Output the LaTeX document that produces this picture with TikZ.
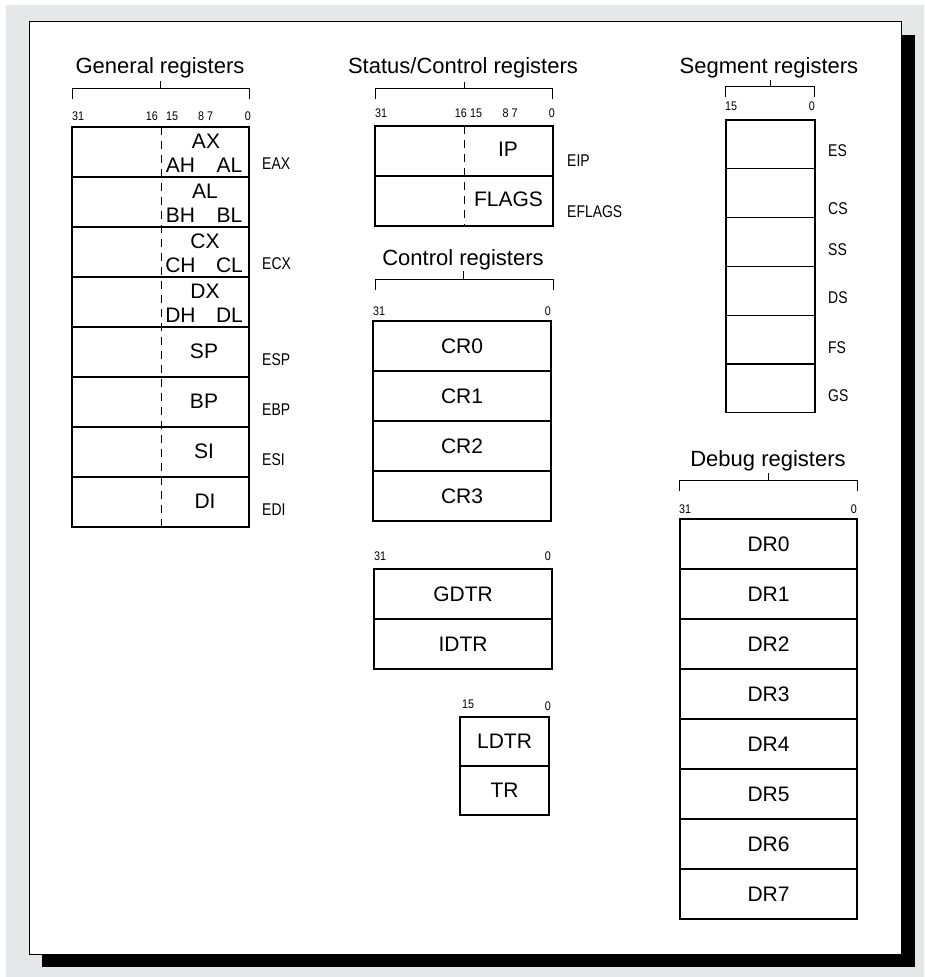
\documentclass[tikz,border=0pt]{standalone}
\usepackage{fontspec}
\setmainfont{Liberation Sans}
\newfontfamily\narrowfont[FakeStretch=0.82]{Liberation Sans}
\newfontfamily\bitfont[FakeStretch=0.86]{Liberation Sans}
\definecolor{bggray}{HTML}{E6E7E9}
\begin{document}
\begin{tikzpicture}[x=1pt,y=-1pt,
  cell/.style={draw=black, line width=1.1pt, inner sep=0pt, outer sep=0pt, anchor=north west, font=\fontsize{21}{24}\selectfont},
  ttl/.style={inner sep=0pt, anchor=base, font=\fontsize{22}{26}\selectfont},
  rtxt/.style={inner sep=0pt, font=\fontsize{21}{24}\selectfont},
  lab/.style={inner sep=0pt, anchor=west, font=\narrowfont\fontsize{17}{20}\selectfont},
  bit/.style={inner sep=0pt, font=\bitfont\fontsize{12.5}{14}\selectfont},
  brk/.style={line width=0.9pt},
  dsh/.style={line width=0.9pt, dash pattern=on 8pt off 6pt}]

\useasboundingbox (0,0) rectangle (924,977);
\fill[white] (0,0) rectangle (924,977);
\fill[bggray] (6,5) rectangle (924,977);
\fill[black] (42,35) rectangle (915,967);
\filldraw[fill=white, draw=black, line width=1pt] (29,21) rectangle (901,954);

% ---------------- General registers
\node[ttl] (tgen) at (160,73) {General registers};
\draw[brk] (72,99) -- (72,88) -- (249,88) -- (249,99) (160,88) -- (160,81);
\node[bit, anchor=base west] (g31) at (72,120) {31};
\node[bit, anchor=base east] (g16) at (158,120) {16};
\node[bit, anchor=base west] (g15) at (166,120) {15};
\node[bit, anchor=base] (g8) at (201,120) {8};
\node[bit, anchor=base] (g7) at (210,120) {7};
\node[bit, anchor=base east] (g0) at (251,120) {0};
\foreach \i in {1,...,8}
  \node[cell, minimum width=177pt, minimum height=50pt] (g\i) at (72,{127+50*(\i-1)}) {};
\draw[dsh] ([xshift=89pt]g1.north west) -- ([xshift=89pt]g8.south west);
\node[rtxt] (ax) at (206,141) {AX};
\node[rtxt] (ah) at (180.5,165) {AH};
\node[rtxt] (al) at (229.5,165) {AL};
\node[rtxt] (bx) at (205,191) {AL};
\node[rtxt] (bh) at (180.5,215) {BH};
\node[rtxt] (bl) at (229.5,215) {BL};
\node[rtxt] (cx) at (205,241) {CX};
\node[rtxt] (ch) at (180.5,265) {CH};
\node[rtxt] (cl) at (229.5,265) {CL};
\node[rtxt] (dx) at (205,291) {DX};
\node[rtxt] (dh) at (180.5,315) {DH};
\node[rtxt] (dl) at (229.5,315) {DL};
\node[rtxt] (sp) at (204,351) {SP};
\node[rtxt] (bp) at (204,401) {BP};
\node[rtxt] (si) at (204,451) {SI};
\node[rtxt] (di) at (205,501) {DI};
\node[lab] (eax) at (262,164) {EAX};
\node[lab] (ecx) at (262,264) {ECX};
\node[lab] (esp) at (262,360) {ESP};
\node[lab] (ebp) at (262,410) {EBP};
\node[lab] (esi) at (262,460) {ESI};
\node[lab] (edi) at (262,510) {EDI};

% ---------------- Status/Control registers
\node[ttl] (tstat) at (463,73) {Status/Control registers};
\draw[brk] (375,99) -- (375,88) -- (552,88) -- (552,99) (464,88) -- (464,82);
\node[bit, anchor=base west] (s31) at (375,117) {31};
\node[bit, anchor=base east] (s16) at (467,117) {16};
\node[bit, anchor=base west] (s15) at (470,117) {15};
\node[bit, anchor=base] (s8) at (505.5,117) {8};
\node[bit, anchor=base] (s7) at (514.5,117) {7};
\node[bit, anchor=base east] (s0) at (555,117) {0};
\node[cell, minimum width=178pt, minimum height=50pt] (s1) at (375,126) {};
\node[cell, minimum width=178pt, minimum height=50pt] (s2) at (375,176) {};
\draw[dsh] ([xshift=89pt]s1.north west) -- ([xshift=89pt]s2.south west);
\node[rtxt] (ip) at (508,149.5) {IP};
\node[rtxt] (flags) at (508.5,199.5) {FLAGS};
\node[lab] (eip) at (567,161) {EIP};
\node[lab] (eflags) at (567,212) {EFLAGS};

% ---------------- Control registers
\node[ttl] (tctl) at (463,265) {Control registers};
\draw[brk] (375,290) -- (375,279) -- (553,279) -- (553,290) (463,279) -- (463,271);
\node[bit, anchor=base west] (c31) at (373,315) {31};
\node[bit, anchor=base east] (c0) at (551,315) {0};
\foreach \i/\t in {1/CR0,2/CR1,3/CR2,4/CR3}
  \node[cell, minimum width=178pt, minimum height=50pt] (c\i) at (373,{321+50*(\i-1)}) {\t};

% ---------------- GDTR / IDTR
\node[bit, anchor=base west] (d31) at (374,560) {31};
\node[bit, anchor=base east] (d0) at (551,560) {0};
\node[cell, minimum width=178pt, minimum height=50pt] (gdtr) at (374,569) {GDTR};
\node[cell, minimum width=178pt, minimum height=50pt] (idtr) at (374,619) {IDTR};

% ---------------- LDTR / TR
\node[bit, anchor=base west] (l15) at (462,708) {15};
\node[bit, anchor=base east] (l0) at (551,710) {0};
\node[cell, minimum width=89pt, minimum height=49pt] (ldtr) at (460,717) {LDTR};
\node[cell, minimum width=89pt, minimum height=49pt] (tr) at (460,766) {TR};

% ---------------- Segment registers
\node[ttl] (tseg) at (769,73) {Segment registers};
\draw[brk] (725,97) -- (725,86) -- (814,86) -- (814,97) (770,86) -- (770,80);
\node[bit, anchor=base west] (g15s) at (725,110) {15};
\node[bit, anchor=base east] (g0s) at (815,110) {0};
\foreach \i in {1,...,6}
  \node[cell, minimum width=89pt, minimum height=48.8pt] (sg\i) at (726,{120+48.8*(\i-1)}) {};
\node[lab] (es) at (828,151) {ES};
\node[lab] (cs) at (828,209) {CS};
\node[lab] (ss) at (828,250) {SS};
\node[lab] (ds) at (828,298) {DS};
\node[lab] (fs) at (828,348) {FS};
\node[lab] (gs) at (828,396) {GS};

% ---------------- Debug registers
\node[ttl] (tdbg) at (768,466) {Debug registers};
\draw[brk] (679,491) -- (679,480) -- (857,480) -- (857,491) (768,480) -- (768,473);
\node[bit, anchor=base west] (b31) at (679,513) {31};
\node[bit, anchor=base east] (b0) at (857,513) {0};
\foreach \i/\t in {1/DR0,2/DR1,3/DR2,4/DR3,5/DR4,6/DR5,7/DR6,8/DR7}
  \node[cell, minimum width=177pt, minimum height=50pt] (dr\i) at (680,{519+50*(\i-1)}) {\t};
\end{tikzpicture}
\end{document}
